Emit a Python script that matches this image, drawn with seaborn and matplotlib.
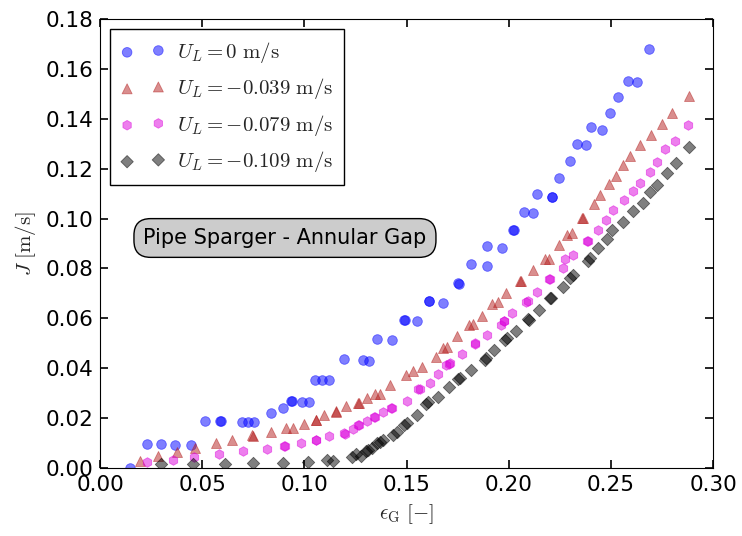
import numpy as np
import pandas as pd
import matplotlib
matplotlib.use("Agg")
import matplotlib.pyplot as plt
import seaborn as sns

# Drift-flux data: superficial flux J versus gas holdup eps_G for four liquid velocities
eps_u0 = [0.0147, 0.0228, 0.0297, 0.0369, 0.0445, 0.0514, 0.0585, 0.0590, 0.0697, 0.0724,
          0.0754, 0.0837, 0.0894, 0.0936, 0.0940, 0.0989, 0.1025, 0.1052, 0.1088, 0.1122,
          0.1196, 0.1286, 0.1318, 0.1357, 0.1428, 0.1487, 0.1491, 0.1550, 0.1608, 0.1612,
          0.1677, 0.1752, 0.1756, 0.1816, 0.1896, 0.1896, 0.1966, 0.2021, 0.2025, 0.2075,
          0.2118, 0.2137, 0.2210, 0.2214, 0.2248, 0.2299, 0.2336, 0.2377, 0.2405, 0.2455,
          0.2496, 0.2535, 0.2586, 0.2628, 0.2687]
j_u0 = [0.0000, 0.0096, 0.0096, 0.0094, 0.0094, 0.0188, 0.0188, 0.0187, 0.0186, 0.0186,
        0.0186, 0.0219, 0.0242, 0.0270, 0.0269, 0.0266, 0.0266, 0.0353, 0.0353, 0.0353,
        0.0437, 0.0433, 0.0429, 0.0517, 0.0513, 0.0593, 0.0592, 0.0590, 0.0670, 0.0669,
        0.0660, 0.0740, 0.0739, 0.0818, 0.0809, 0.0889, 0.0881, 0.0954, 0.0953, 0.1025,
        0.1021, 0.1099, 0.1088, 0.1087, 0.1162, 0.1231, 0.1299, 0.1295, 0.1365, 0.1356,
        0.1423, 0.1489, 0.1553, 0.1546, 0.1679]

eps_u039 = [0.0196, 0.0286, 0.0379, 0.0467, 0.0566, 0.0645, 0.0744, 0.0748, 0.0835, 0.0909,
            0.0944, 0.0998, 0.1055, 0.1059, 0.1096, 0.1153, 0.1157, 0.1204, 0.1264, 0.1268,
            0.1308, 0.1346, 0.1370, 0.1421, 0.1498, 0.1534, 0.1578, 0.1645, 0.1677, 0.1696,
            0.1749, 0.1808, 0.1827, 0.1868, 0.1917, 0.1946, 0.1987, 0.2054, 0.2058, 0.2118,
            0.2178, 0.2197, 0.2248, 0.2284, 0.2309, 0.2359, 0.2363, 0.2418, 0.2447, 0.2490,
            0.2526, 0.2558, 0.2594, 0.2643, 0.2697, 0.2749, 0.2800, 0.2880]
j_u039 = [0.0028, 0.0049, 0.0063, 0.0081, 0.0099, 0.0112, 0.0131, 0.0130, 0.0143, 0.0159,
          0.0159, 0.0175, 0.0194, 0.0193, 0.0213, 0.0227, 0.0226, 0.0247, 0.0262, 0.0261,
          0.0282, 0.0297, 0.0297, 0.0334, 0.0373, 0.0389, 0.0406, 0.0446, 0.0480, 0.0486,
          0.0529, 0.0573, 0.0577, 0.0611, 0.0656, 0.0664, 0.0700, 0.0751, 0.0750, 0.0794,
          0.0838, 0.0838, 0.0893, 0.0934, 0.0941, 0.1004, 0.1003, 0.1059, 0.1095, 0.1138,
          0.1172, 0.1215, 0.1252, 0.1294, 0.1335, 0.1377, 0.1423, 0.1492]

eps_u079 = [0.0232, 0.0356, 0.0462, 0.0582, 0.0702, 0.0816, 0.0900, 0.0904, 0.0984, 0.1055,
            0.1059, 0.1122, 0.1194, 0.1198, 0.1240, 0.1262, 0.1266, 0.1305, 0.1341, 0.1345,
            0.1383, 0.1424, 0.1428, 0.1504, 0.1556, 0.1565, 0.1615, 0.1653, 0.1694, 0.1713,
            0.1710, 0.1772, 0.1833, 0.1837, 0.1893, 0.1961, 0.1977, 0.1975, 0.2015, 0.2085,
            0.2092, 0.2140, 0.2196, 0.2200, 0.2265, 0.2273, 0.2314, 0.2383, 0.2387, 0.2436,
            0.2477, 0.2512, 0.2565, 0.2607, 0.2643, 0.2692, 0.2728, 0.2764, 0.2814, 0.2876]
j_u079 = [0.0023, 0.0032, 0.0045, 0.0056, 0.0067, 0.0075, 0.0088, 0.0087, 0.0101, 0.0112,
          0.0111, 0.0130, 0.0139, 0.0138, 0.0158, 0.0174, 0.0173, 0.0190, 0.0206, 0.0205,
          0.0223, 0.0241, 0.0240, 0.0269, 0.0316, 0.0316, 0.0340, 0.0377, 0.0412, 0.0420,
          0.0418, 0.0457, 0.0500, 0.0499, 0.0535, 0.0573, 0.0591, 0.0589, 0.0620, 0.0664,
          0.0671, 0.0704, 0.0758, 0.0757, 0.0801, 0.0837, 0.0854, 0.0909, 0.0908, 0.0954,
          0.0993, 0.1034, 0.1075, 0.1111, 0.1142, 0.1188, 0.1228, 0.1279, 0.1312, 0.1375]

eps_u109 = [0.0299, 0.0457, 0.0612, 0.0747, 0.0894, 0.1020, 0.1113, 0.1139, 0.1232, 0.1253,
            0.1275, 0.1300, 0.1313, 0.1330, 0.1357, 0.1372, 0.1387, 0.1432, 0.1452, 0.1488,
            0.1501, 0.1550, 0.1595, 0.1605, 0.1655, 0.1708, 0.1752, 0.1760, 0.1816, 0.1886,
            0.1889, 0.1930, 0.1982, 0.1991, 0.2034, 0.2094, 0.2098, 0.2150, 0.2204, 0.2208,
            0.2265, 0.2300, 0.2317, 0.2390, 0.2398, 0.2439, 0.2480, 0.2504, 0.2558, 0.2610,
            0.2659, 0.2689, 0.2728, 0.2774, 0.2819, 0.2880]
j_u109 = [0.0015, 0.0015, 0.0017, 0.0019, 0.0021, 0.0025, 0.0031, 0.0028, 0.0045, 0.0056,
          0.0050, 0.0068, 0.0072, 0.0079, 0.0099, 0.0104, 0.0112, 0.0132, 0.0146, 0.0172,
          0.0182, 0.0213, 0.0255, 0.0264, 0.0286, 0.0325, 0.0355, 0.0360, 0.0393, 0.0433,
          0.0440, 0.0473, 0.0513, 0.0520, 0.0549, 0.0596, 0.0595, 0.0634, 0.0683, 0.0682,
          0.0727, 0.0761, 0.0774, 0.0830, 0.0841, 0.0881, 0.0917, 0.0954, 0.0988, 0.1032,
          0.1064, 0.1108, 0.1135, 0.1182, 0.1224, 0.1286]

series_labels = [r"$U_L = 0\ \mathrm{m/s}$",
                 r"$U_L = -0.039\ \mathrm{m/s}$",
                 r"$U_L = -0.079\ \mathrm{m/s}$",
                 r"$U_L = -0.109\ \mathrm{m/s}$"]
series_colors = ["#0000ff", "#b41e1e", "#dc00dc", "#000000"]
series_markers = ["o", "^", "h", "D"]
series_sizes = [48, 52, 48, 40]

x_ticks = [0.00, 0.05, 0.10, 0.15, 0.20, 0.25, 0.30]
y_ticks = [0.00, 0.02, 0.04, 0.06, 0.08, 0.10, 0.12, 0.14, 0.16, 0.18]

sns.set_style("ticks", rc={
    "xtick.direction": "in", "ytick.direction": "in",
    "xtick.top": True, "ytick.right": True,
    "axes.edgecolor": "black", "axes.linewidth": 1.4,
})
plt.rcParams["font.family"] = ["DejaVu Sans"]
plt.rcParams["mathtext.fontset"] = "cm"

fig = plt.figure(figsize=(7.42, 5.36), dpi=100)
ax = fig.add_axes([0.1348, 0.1269, 0.8262, 0.8377])

datasets = [(eps_u0, j_u0), (eps_u039, j_u039), (eps_u079, j_u079), (eps_u109, j_u109)]
for (ex, jy), lab, col, mk, sz in zip(datasets, series_labels, series_colors,
                                      series_markers, series_sizes):
    df = pd.DataFrame({"eps": ex, "J": jy})
    sns.scatterplot(data=df, x="eps", y="J", ax=ax, marker=mk, color=col, s=sz,
                    alpha=0.5, edgecolor=col, linewidth=0.6, label=lab)

ax.set_xlim(0.0, 0.30)
ax.set_ylim(0.0, 0.18)
ax.set_xticks(x_ticks)
ax.set_yticks(y_ticks)
ax.set_xticklabels([f"{t:.2f}" for t in x_ticks])
ax.set_yticklabels([f"{t:.2f}" for t in y_ticks])
ax.tick_params(axis="both", which="major", labelsize=15.5, length=6, width=1.2,
               colors="black", pad=5)

ax.set_xlabel(r"$\epsilon_\mathrm{G}\ [-]$", fontsize=15, labelpad=5)
ax.set_ylabel(r"$J\ [\mathrm{m/s}]$", fontsize=15, labelpad=5)

ax.text(0.0905, 0.0922, "Pipe Sparger - Annular Gap", fontsize=15,
        ha="center", va="center", color="black",
        bbox=dict(boxstyle="round,pad=0.45,rounding_size=0.8",
                  facecolor="#cccccc", edgecolor="black", linewidth=1.0))

leg = ax.legend(loc="upper left", scatterpoints=2, fontsize=15, frameon=True,
                fancybox=False, edgecolor="black", framealpha=1.0,
                borderaxespad=0.5, labelspacing=0.55, handletextpad=0.6,
                handlelength=2.1, borderpad=0.5)
leg.get_frame().set_linewidth(1.0)

fig.savefig("out.png", dpi=100)
